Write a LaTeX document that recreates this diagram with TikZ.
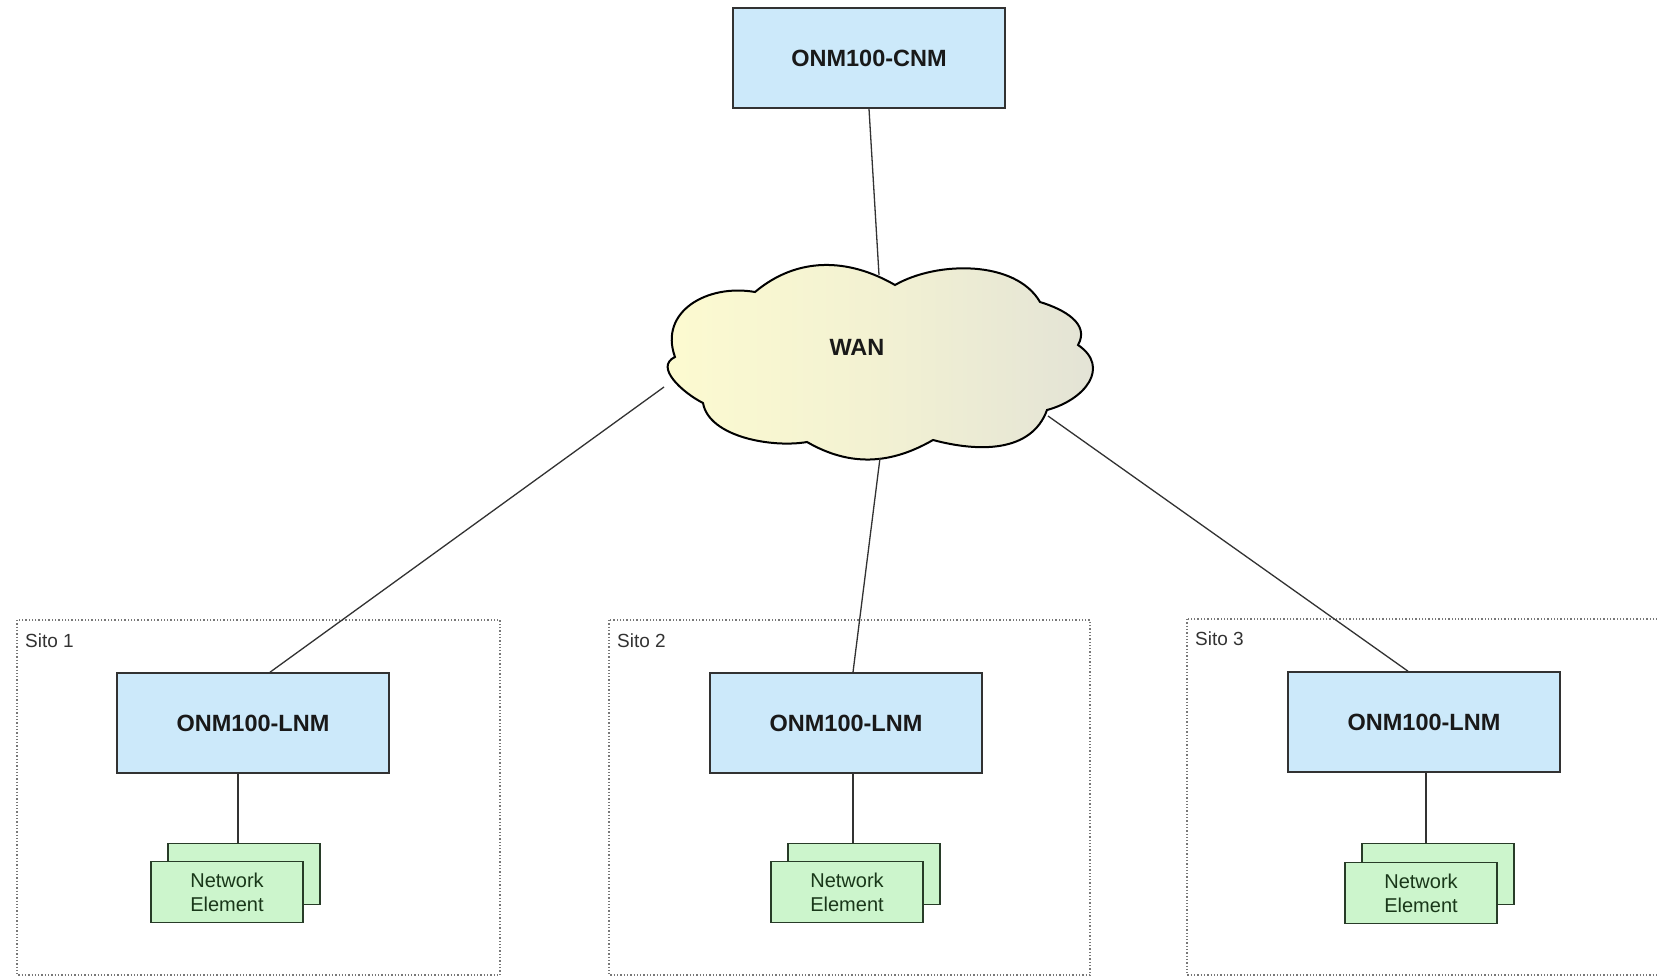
\documentclass[tikz,border=0pt]{standalone}
\usepackage{fontspec}
\setmainfont{Liberation Sans}
\definecolor{boxblue}{RGB}{204,233,250}
\definecolor{boxgreen}{RGB}{204,245,204}
\definecolor{nedge}{RGB}{40,60,40}
\definecolor{netext}{RGB}{25,55,25}
\definecolor{lineg}{RGB}{50,50,50}
\definecolor{dotg}{RGB}{120,120,120}
\definecolor{cloudA}{RGB}{253,251,208}
\definecolor{cloudB}{RGB}{226,226,214}
\tikzset{
  mgrbox/.style={draw=lineg, line width=1.6pt, fill=boxblue, minimum width=272pt, minimum height=100pt, inner sep=0pt,
    font=\fontsize{23.5}{28}\selectfont\bfseries, text=black!90},
  neback/.style={draw=nedge, line width=1.5pt, fill=boxgreen, minimum width=152pt, minimum height=61pt, inner sep=0pt},
  nefront/.style={neback, align=center, text=netext, font=\fontsize{20}{24}\selectfont},
  sitebox/.style={draw=dotg, line width=1.3pt, dotted},
  sitelabel/.style={anchor=base west, inner sep=0pt, text=black!80, font=\fontsize{19}{22}\selectfont},
  conn/.style={draw=lineg, line width=1.3pt},
}
\begin{document}
\begin{tikzpicture}[x=1pt,y=1pt]
\useasboundingbox (0,0) rectangle (1657,-979);
\fill[white] (0,0) rectangle (1657,-979);

% site frames
\draw[sitebox] (17,-620) rectangle (500,-975);
\draw[sitebox] (609,-620) rectangle (1090,-975);
\draw[sitebox] (1187,-619) rectangle (1680,-975);
\node[sitelabel] (s1) at (25,-647) {Sito 1};
\node[sitelabel] (s2) at (617,-647) {Sito 2};
\node[sitelabel] (s3) at (1195,-645) {Sito 3};

% cloud
\path[draw=black, line width=2pt, left color=cloudA, right color=cloudB, middle color=cloudA!60!cloudB]
  (895,-285) to[out=150,in=40] (755,-292)
  to[out=170,in=110,looseness=1.2] (675,-357)
  to[out=205,in=153,looseness=1.1] (703,-403)
  to[out=-80,in=190,looseness=0.8] (807,-442)
  to[out=-30,in=210] (933,-440)
  to[out=-15,in=250] (1047,-410)
  to[out=15,in=-34,looseness=1.4] (1078,-345)
  to[out=60,in=-17,looseness=1.1] (1040,-302)
  to[out=120,in=30,looseness=0.85] (895,-285) -- cycle;
\node[font=\fontsize{23.5}{28}\selectfont\bfseries, text=black!90] (wan) at (857,-347) {WAN};
\coordinate (wanT) at (879,-275);
\coordinate (wanL) at (664,-387);
\coordinate (wanB) at (880,-458);
\coordinate (wanR) at (1048,-416);

% manager boxes
\node[mgrbox] (cnm) at (869,-58) {ONM100-CNM};
\node[mgrbox] (lnm1) at (253,-723) {ONM100-LNM};
\node[mgrbox] (lnm2) at (846,-723) {ONM100-LNM};
\node[mgrbox] (lnm3) at (1424,-722) {ONM100-LNM};

% network elements
\node[neback] (ne1b) at (244,-874) {};
\node[nefront] (ne1) at (227,-892) {Network\\Element};
\node[neback] (ne2b) at (864,-874) {};
\node[nefront] (ne2) at (847,-892) {Network\\Element};
\node[neback] (ne3b) at (1438,-874) {};
\node[nefront] (ne3) at (1421,-893) {Network\\Element};

% connectors
\draw[conn] (cnm.south) -- (wanT);
\draw[conn] (wanL) -- ([xshift=17pt]lnm1.north);
\draw[conn] (wanB) -- ([xshift=7pt]lnm2.north);
\draw[conn] (wanR) -- ([xshift=-16pt]lnm3.north);
\draw[conn] ([xshift=-6pt]ne1b.north) -- ([xshift=-6pt]ne1b.north |- lnm1.south);
\draw[conn] ([xshift=-11pt]ne2b.north) -- ([xshift=-11pt]ne2b.north |- lnm2.south);
\draw[conn] ([xshift=-12pt]ne3b.north) -- ([xshift=-12pt]ne3b.north |- lnm3.south);
\end{tikzpicture}
\end{document}
